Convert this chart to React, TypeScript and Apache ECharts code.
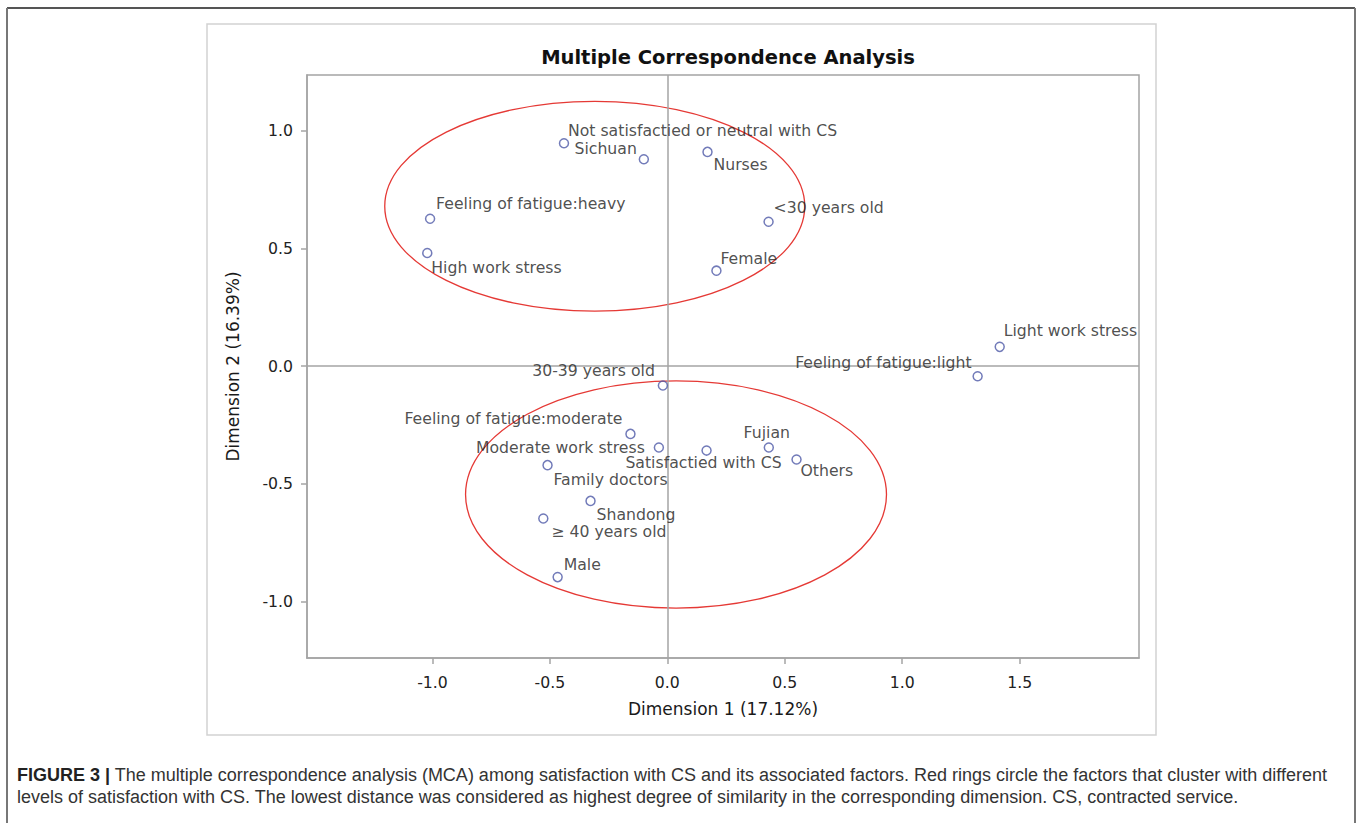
import React, { useEffect, useRef } from "react";
import * as echarts from "echarts";

// ---- data ----
const categories = [
  "Not satisfactied or neutral with CS",
  "Sichuan",
  "Feeling of fatigue:heavy",
  "High work stress",
  "Nurses",
  "<30 years old",
  "Female",
  "Light work stress",
  "Feeling of fatigue:light",
  "30-39 years old",
  "Feeling of fatigue:moderate",
  "Moderate work stress",
  "Satisfactied with CS",
  "Fujian",
  "Others",
  "Family doctors",
  "Shandong",
  "≥ 40 years old",
  "Male",
];
const dim1 = [-0.44, -0.1, -1.01, -1.022, 0.171, 0.431, 0.209, 1.415, 1.321, -0.019, -0.157, -0.036, 0.167, 0.432, 0.55, -0.51, -0.327, -0.528, -0.467];
const dim2 = [0.948, 0.88, 0.627, 0.481, 0.911, 0.614, 0.406, 0.082, -0.043, -0.082, -0.288, -0.346, -0.359, -0.346, -0.397, -0.421, -0.573, -0.648, -0.897];

// red rings: centre (dim1, dim2) and radii in data units
const ringCx = [-0.309, 0.037];
const ringCy = [0.68, -0.546];
const ringRx = [0.894, 0.896];
const ringRy = [0.446, 0.483];

const xTicks = [-1.0, -0.5, 0.0, 0.5, 1.0, 1.5];
const yTicks = [-1.0, -0.5, 0.0, 0.5, 1.0];

const chartTitle = "Multiple Correspondence Analysis";
const xTitle = "Dimension 1 (17.12%)";
const yTitle = "Dimension 2 (16.39%)";
const captionBold = "FIGURE 3 |";
const captionLine1 =
  " The multiple correspondence analysis (MCA) among satisfaction with CS and its associated factors. Red rings circle the factors that cluster with different";
const captionLine2 =
  "levels of satisfaction with CS. The lowest distance was considered as highest degree of similarity in the corresponding dimension. CS, contracted service.";

// ---- label placement (style, not data) ----
const labelPlace: Record<string, [string, number, number]> = {
  "Not satisfactied or neutral with CS": ["left", 4, -13],
  Sichuan: ["right", -7, -11],
  "Feeling of fatigue:heavy": ["left", 6, -15],
  "High work stress": ["left", 4, 14],
  Nurses: ["left", 6, 13],
  "<30 years old": ["left", 5, -14],
  Female: ["left", 4, -12],
  "Light work stress": ["left", 4, -16],
  "Feeling of fatigue:light": ["right", -6, -14],
  "30-39 years old": ["right", -8, -15],
  "Feeling of fatigue:moderate": ["right", -8, -15],
  "Moderate work stress": ["right", -14, 0],
  "Satisfactied with CS": ["center", -3, 12],
  Fujian: ["center", -2, -15],
  Others: ["left", 4, 11],
  "Family doctors": ["left", 6, 14],
  Shandong: ["left", 6, 14],
  "≥ 40 years old": ["left", 8, 13],
  Male: ["left", 6, -13],
};

const FONT = "DejaVu Sans";
const GRAY = "#a4a4a4";

export default function App() {
  const ref = useRef<HTMLDivElement>(null);
  useEffect(() => {
    if (!ref.current) return;
    const chart = echarts.init(ref.current, undefined, { renderer: "svg" });

    const points = categories.map((name, i) => {
      const p = labelPlace[name] || ["left", 5, 0];
      return {
        name,
        value: [dim1[i], dim2[i]],
        label: {
          show: true,
          position: "inside",
          align: p[0],
          verticalAlign: "middle",
          offset: [p[1], p[2]],
          formatter: name,
        },
      };
    });

    const rings = ringCx.map((c, i) => [c, ringCy[i], ringRx[i], ringRy[i]]);

    chart.setOption({
      animation: false,
      backgroundColor: "#ffffff",
      title: {
        text: chartTitle,
        left: 723,
        top: 52,
        textAlign: "center",
        textVerticalAlign: "middle",
        textStyle: { fontFamily: FONT, fontSize: 19.5, fontWeight: "bold", color: "#111" },
      },
      grid: {
        left: 307,
        top: 75,
        right: 219,
        bottom: 165,
        show: true,
        borderColor: GRAY,
        borderWidth: 1.5,
        backgroundColor: "transparent",
      },
      xAxis: {
        type: "value",
        min: -1.534,
        max: 2.008,
        name: xTitle,
        nameLocation: "middle",
        nameGap: 42,
        nameTextStyle: { fontFamily: FONT, fontSize: 17, color: "#1a1a1a" },
        axisLine: { show: true, onZero: false, lineStyle: { color: GRAY, width: 1.5 } },
        axisTick: { show: true, length: 6, customValues: xTicks, lineStyle: { color: GRAY, width: 1.5 } },
        axisLabel: {
          customValues: xTicks,
          margin: 16,
          fontFamily: FONT,
          fontSize: 15.7,
          color: "#222",
          formatter: (v: number) => v.toFixed(1),
        },
        splitLine: { show: false },
      },
      yAxis: {
        type: "value",
        min: -1.241,
        max: 1.238,
        name: yTitle,
        nameLocation: "middle",
        nameGap: 66,
        nameRotate: 90,
        nameTextStyle: { fontFamily: FONT, fontSize: 17, color: "#1a1a1a" },
        axisLine: { show: true, onZero: false, lineStyle: { color: GRAY, width: 1.5 } },
        axisTick: { show: true, length: 6, customValues: yTicks, lineStyle: { color: GRAY, width: 1.5 } },
        axisLabel: {
          customValues: yTicks,
          margin: 14,
          fontFamily: FONT,
          fontSize: 15.7,
          color: "#222",
          formatter: (v: number) => v.toFixed(1),
        },
        splitLine: { show: false },
      },
      graphic: [
        // outer figure border (top, left, right)
        { type: "line", shape: { x1: 7, y1: 8, x2: 1355, y2: 8 }, style: { stroke: "#555", lineWidth: 2 }, z: 0 },
        { type: "line", shape: { x1: 7, y1: 8, x2: 7, y2: 823 }, style: { stroke: "#777", lineWidth: 2 }, z: 0 },
        { type: "line", shape: { x1: 1355, y1: 8, x2: 1355, y2: 823 }, style: { stroke: "#777", lineWidth: 2 }, z: 0 },
        // chart frame
        {
          type: "rect",
          shape: { x: 207, y: 24, width: 949, height: 711 },
          style: { fill: "none", stroke: "#d2d2d2", lineWidth: 1.5 },
          z: 0,
        },
        {
          type: "text",
          x: 17,
          y: 775,
          style: {
            text: "{b|" + captionBold + "}" + captionLine1,
            font: "18px 'Liberation Sans'",
            fill: "#333",
            verticalAlign: "middle",
            rich: { b: { fontWeight: "bold", fontFamily: "Liberation Sans", fontSize: 18, fill: "#222" } },
          },
        },
        {
          type: "text",
          x: 17,
          y: 797,
          style: {
            text: captionLine2,
            font: "18px 'Liberation Sans'",
            fill: "#333",
            verticalAlign: "middle",
          },
        },
      ],
      series: [
        {
          type: "scatter",
          symbol: "circle",
          symbolSize: 9,
          itemStyle: { color: "rgba(0,0,0,0)", borderColor: "#4f5aa8", borderWidth: 1.5 },
          label: { fontFamily: FONT, fontSize: 15.7, color: "#222" },
          data: points,
          z: 5,
          markLine: {
            silent: true,
            symbol: "none",
            label: { show: false },
            lineStyle: { color: GRAY, type: "solid", width: 1.5 },
            data: [{ xAxis: 0 }, { yAxis: 0 }],
          },
        },
        {
          type: "custom",
          silent: true,
          clip: false,
          z: 4,
          encode: { x: 0, y: 1 },
          data: rings,
          renderItem: (params: any, api: any) => {
            const c = api.coord([api.value(0), api.value(1)]);
            const s = api.size([api.value(2), api.value(3)]);
            return {
              type: "ellipse",
              shape: { cx: c[0], cy: c[1], rx: s[0], ry: s[1] },
              style: { fill: "none", stroke: "#e53935", lineWidth: 1.3 },
            };
          },
        },
      ],
    });
    return () => chart.dispose();
  }, []);
  return (
    <div
      ref={ref}
      style={{ position: "absolute", left: 0, top: 0, width: 1358, height: 823 }}
    />
  );
}
